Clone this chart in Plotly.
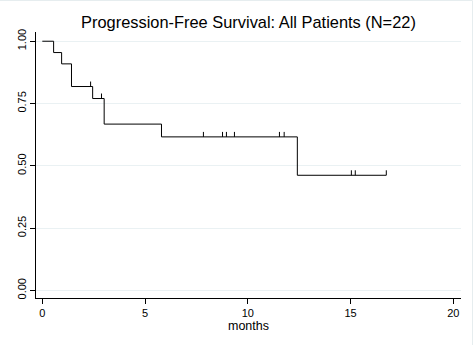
import plotly.graph_objects as go

# Progression-free survival times in months (event = 1: progression, 0: censored)
times = [0.55, 0.94, 1.42, 1.42, 2.35, 2.45, 2.88, 3.01, 3.01, 5.80,
         7.84, 8.77, 8.96, 9.35, 9.35, 11.54, 11.54, 11.77,
         12.41, 15.04, 15.23, 16.74]
events = [1, 1, 1, 1, 0, 1, 0, 1, 1, 1,
          0, 0, 0, 0, 0, 0, 0, 0,
          1, 0, 0, 0]

x_ticks = [0, 5, 10, 15, 20]
y_ticks = [0, 0.25, 0.5, 0.75, 1.0]
y_tick_labels = ["0.00", "0.25", "0.50", "0.75", "1.00"]

title_text = "Progression-Free Survival: All Patients (N=22)"
x_title = "months"


def kaplan_meier(t, e):
    """Return step coordinates and censor points of the KM estimate."""
    order = sorted(range(len(t)), key=lambda i: (t[i], -e[i]))
    at_risk = len(t)
    s = 1.0
    step_x, step_y = [0.0], [1.0]
    cens_x, cens_y = [], []
    i = 0
    while i < len(order):
        ti = t[order[i]]
        d = c = 0
        while i < len(order) and t[order[i]] == ti:
            if e[order[i]]:
                d += 1
            else:
                c += 1
            i += 1
        if d:
            s *= (at_risk - d) / at_risk
            step_x.append(ti)
            step_y.append(s)
        if c:
            cens_x.append(ti)
            cens_y.append(s)
        at_risk -= d + c
    last_t = max(t)
    if step_x[-1] != last_t:
        step_x.append(last_t)
        step_y.append(s)
    return step_x, step_y, cens_x, cens_y


sx, sy, cx, cy = kaplan_meier(times, events)

fig = go.Figure()
fig.add_trace(go.Scatter(
    x=sx, y=sy, mode="lines", line=dict(color="black", width=1, shape="hv"),
    hoverinfo="skip", showlegend=False))

# censoring ticks: short vertical strokes rising from the curve
tick_h = 0.02
mx, my = [], []
for xv, yv in zip(cx, cy):
    mx += [xv, xv, None]
    my += [yv, yv + tick_h, None]
fig.add_trace(go.Scatter(
    x=mx, y=my, mode="lines", line=dict(color="black", width=1),
    hoverinfo="skip", showlegend=False))

W, H = 474, 345
ML, MR, MT, MB = 36, 13, 32, 47
pw, ph = W - ML - MR, H - MT - MB


def px_to_paper_x(px):
    return (px - ML) / pw


def px_to_paper_y(py):
    return (H - MB - py) / ph


font_family = "Arial, Liberation Sans, sans-serif"

fig.update_layout(
    width=W, height=H,
    margin=dict(l=ML, r=MR, t=MT, b=MB, pad=0),
    paper_bgcolor="white", plot_bgcolor="white",
    font=dict(family=font_family, size=11, color="black"),
    title=dict(text=title_text, x=0.5, xref="paper", xanchor="center",
               y=1 - 22 / H, yref="container", yanchor="middle",
               font=dict(family=font_family, size=16.4, color="black")),
    xaxis=dict(range=[-0.307, 20.375], tickvals=x_ticks,
               ticks="outside", ticklen=5, tickcolor="black", tickwidth=1,
               showline=True, linecolor="black", linewidth=1,
               showgrid=False, zeroline=False,
               title=dict(text=x_title, standoff=1,
                          font=dict(family=font_family, size=12.5))),
    yaxis=dict(range=[-0.0305, 1.037], tickvals=y_ticks, ticktext=y_tick_labels,
               tickangle=-90, ticks="outside", ticklen=5, tickcolor="black",
               tickwidth=1, showline=True, linecolor="black", linewidth=1,
               showgrid=True, gridcolor="#EAF1F3", gridwidth=1, zeroline=False),
    shapes=[dict(type="rect", xref="paper", yref="paper",
                 x0=px_to_paper_x(-10), x1=px_to_paper_x(472.5),
                 y0=px_to_paper_y(H + 10), y1=px_to_paper_y(0.5),
                 line=dict(color="#E6EDEF", width=1), layer="below")],
)

fig.write_html("out.html")
